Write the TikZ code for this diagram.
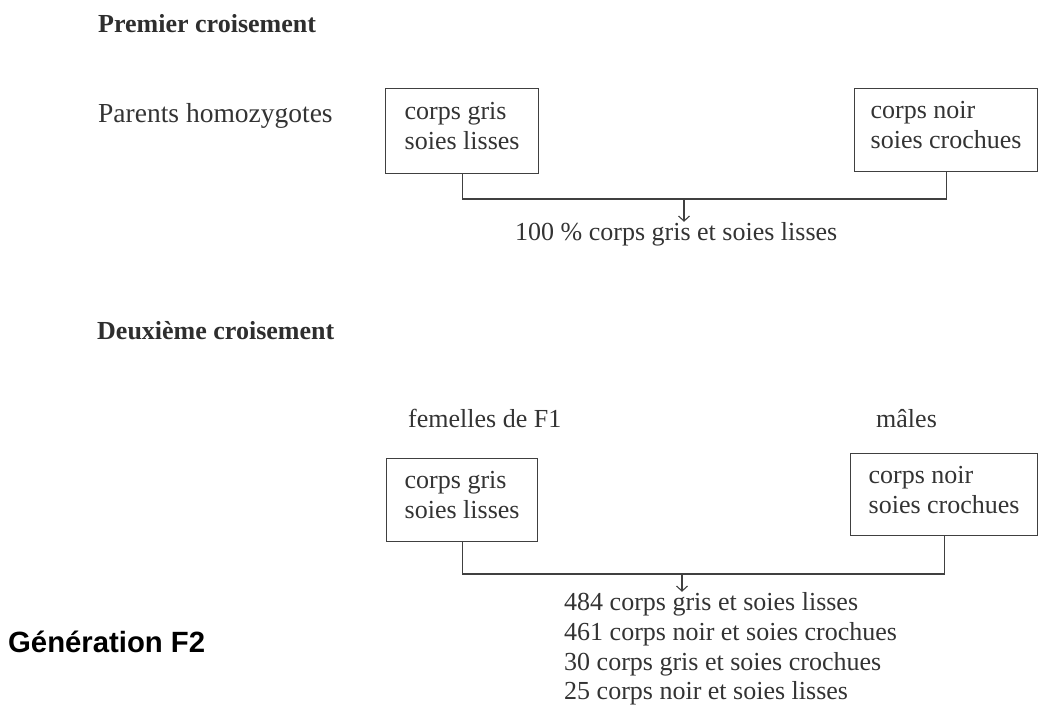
\documentclass[tikz,border=0pt]{standalone}
\usepackage{fontspec}
\setmainfont{Liberation Serif}
\newfontfamily\arialfont{Liberation Sans}
\usetikzlibrary{positioning}
\usetikzlibrary{arrows.meta}
\tikzset{
    titre/.style = {anchor=base west, inner sep=0pt, font=\fontsize{26}{30}\selectfont\bfseries, text=black!82},
    texte/.style = {anchor=base west, inner sep=0pt, font=\fontsize{26}{30}\selectfont, text=black!80},
    gen/.style = {anchor=base west, inner sep=0pt, font=\fontsize{29.3}{34}\selectfont\arialfont\bfseries, text=black},
    boite/.style = {rectangle, draw=black!75, line width=1.2pt, anchor=north west, align=left, text depth=10pt, font=\fontsize{26}{30}\selectfont, text=black!80},
    lien/.style = {draw=black!75, line width=1.2pt},
    fleche/.style = {-{Straight Barb[length=5pt,width=11pt]}, draw=black!75, line width=1.1pt},
}

\begin{document}
\begin{tikzpicture}[x=1pt,y=-1pt]
\useasboundingbox (0,0) rectangle (1040,710);
%
% premier croisement
\node[titre] at (98,32) (t1) {Premier croisement};
\node[texte, font=\fontsize{27.5}{30}\selectfont] at (98,122) (par) {Parents homozygotes};
\node[boite, minimum width=153pt, minimum height=85pt] at (385,88) (b1) {corps gris\\soies lisses};
\node[boite, minimum width=183pt, minimum height=83pt] at (854,88) (b2) {corps noir\\soies crochues};
\coordinate (j1) at (684,199);
\node[texte] at (515,240) (r1) {100 \% corps gris et soies lisses};
%
\draw[lien] (b1.south) |- (j1) -| (b2.south);
\draw[fleche] (j1) -- (j1 |- r1.north);
%
% deuxieme croisement
\node[titre] at (97,339) (t2) {Deuxième croisement};
\node[texte] at (408,427) (fem) {femelles de F1};
\node[texte] at (876,427) (mal) {mâles};
\node[boite, minimum width=151pt, minimum height=83pt] at (386,458) (b3) {corps gris\\soies lisses};
\node[boite, minimum width=187pt, minimum height=82pt] at (850,453) (b4) {corps noir\\soies crochues};
\coordinate (j2) at (682,574);
\node[texte] at (564,610) (r21) {484 corps gris et soies lisses};
\node[texte] at (564,640) (r22) {461 corps noir et soies crochues};
\node[texte] at (564,670) (r23) {30 corps gris et soies crochues};
\node[texte] at (564,699) (r24) {25 corps noir et soies lisses};
%
\draw[lien] (b3.south) |- (j2) -| (b4.south);
\draw[fleche] (j2) -- (j2 |- r21.north);
%
\node[gen] at (8,652) (g2) {Génération F2};

\end{tikzpicture}
\end{document}
